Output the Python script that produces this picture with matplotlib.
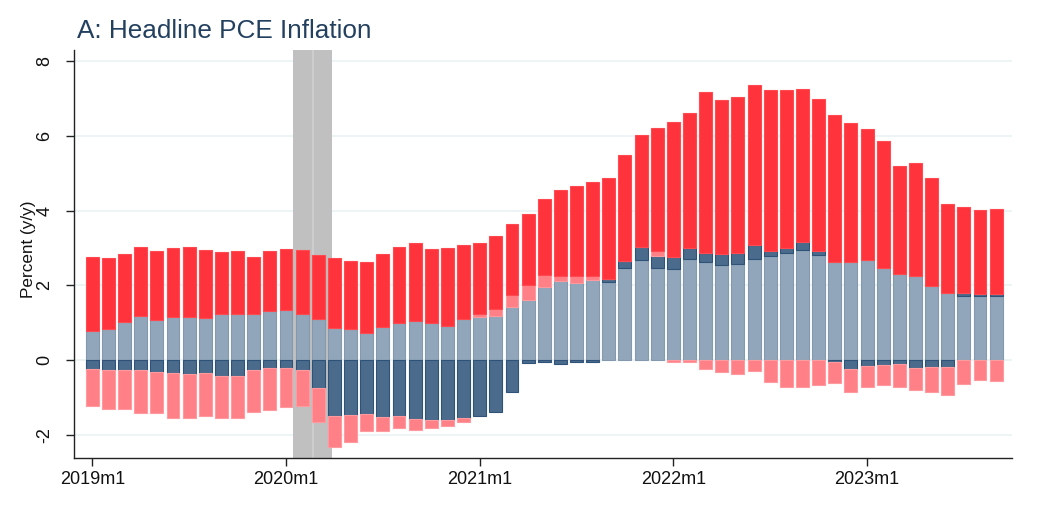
import numpy as np
import matplotlib
matplotlib.use("Agg")
import matplotlib.pyplot as plt

plt.rcParams['font.family'] = ['Liberation Sans', 'DejaVu Sans']

# Months since 2019m1 (0 = 2019m1 ... 56 = 2023m9)
months = list(range(57))
tick_pos = [0, 12, 24, 36, 48]
tick_labels = ["2019m1", "2020m1", "2021m1", "2022m1", "2023m1"]

# Contributions (percentage points), stacked in this order
light_blue = [0.78, 0.82, 1.02, 1.18, 1.06, 1.14, 1.15, 1.13, 1.22, 1.23,
              1.22, 1.31, 1.33, 1.22, 1.09, 0.87, 0.82, 0.73, 0.89, 0.98,
              1.05, 0.98, 0.91, 1.10, 1.15, 1.19, 1.42, 1.62, 1.97, 2.12,
              2.06, 2.15, 2.10, 2.47, 2.67, 2.47, 2.43, 2.71, 2.63, 2.55,
              2.57, 2.71, 2.80, 2.88, 2.95, 2.81, 2.63, 2.63, 2.69, 2.47,
              2.31, 2.26, 1.99, 1.79, 1.71, 1.72, 1.71]
dark_blue = [-0.23, -0.26, -0.27, -0.28, -0.31, -0.34, -0.38, -0.35, -0.42, -0.42,
             -0.27, -0.21, -0.21, -0.27, -0.76, -1.50, -1.47, -1.45, -1.52, -1.49,
             -1.57, -1.62, -1.61, -1.55, -1.49, -1.39, -0.86, -0.09, -0.06, -0.10,
             -0.05, -0.05, 0.06, 0.17, 0.35, 0.33, 0.34, 0.28, 0.25, 0.29,
             0.31, 0.36, 0.11, 0.12, 0.20, 0.10, -0.04, -0.24, -0.17, -0.13,
             -0.11, -0.22, -0.18, -0.18, 0.08, 0.06, 0.05]
light_red = [-0.99, -1.04, -1.04, -1.14, -1.11, -1.21, -1.17, -1.15, -1.13, -1.13,
             -1.12, -1.13, -1.04, -0.96, -0.91, -0.84, -0.72, -0.45, -0.38, -0.33,
             -0.30, -0.20, -0.17, -0.12, 0.07, 0.19, 0.32, 0.40, 0.30, 0.14,
             0.20, 0.09, 0.00, 0.00, 0.00, 0.11, -0.05, -0.05, -0.25, -0.33,
             -0.37, -0.30, -0.59, -0.71, -0.71, -0.66, -0.58, -0.62, -0.54, -0.53,
             -0.60, -0.57, -0.67, -0.75, -0.65, -0.54, -0.57]
red = [1.97, 1.92, 1.82, 1.84, 1.86, 1.85, 1.87, 1.82, 1.68, 1.69,
       1.55, 1.61, 1.65, 1.72, 1.73, 1.86, 1.83, 1.89, 1.94, 2.05,
       2.09, 2.00, 2.08, 1.97, 1.92, 1.94, 1.90, 1.90, 2.04, 2.29,
       2.39, 2.53, 2.72, 2.84, 3.00, 3.30, 3.60, 3.63, 4.29, 4.13,
       4.18, 4.30, 4.32, 4.24, 4.10, 4.09, 3.94, 3.71, 3.50, 3.41,
       2.89, 3.01, 2.88, 2.40, 2.30, 2.25, 2.29]

# Recession shading (in month units)
recession_spans = [(12.42, 13.69), (13.69, 14.83)]

series = [
    (light_blue, "#91a6ba", "#8499ae"),
    (dark_blue, "#4a6b8c", "#2f5279"),
    (light_red, "#ff8087", "#ff9aa0"),
    (red, "#ff333c", "#ff4a52"),
]

fig = plt.figure(figsize=(10.44, 5.13), dpi=100)
ax = fig.add_axes([74/1044, 1 - 458.3/513, (1012-74)/1044, (458.3-49.5)/513])

ax.set_xlim(-1.134, 56.98)
ax.set_ylim(-2.633, 8.32)

for y in [-2, 0, 2, 4, 6, 8]:
    ax.axhline(y, color="#eaf2f3", lw=1.2, zorder=0)

for (a, b) in recession_spans:
    ax.axvspan(a, b, color="#c0c0c0", lw=0, zorder=1)
ax.axvline(recession_spans[0][1], color="#d0d0d0", lw=1.2, zorder=1.1)

x = np.array(months, dtype=float)
pos_base = np.zeros(len(months))
neg_base = np.zeros(len(months))
for vals, fc, ec in series:
    v = np.array(vals, dtype=float)
    bottoms = np.where(v >= 0, pos_base, neg_base)
    ax.bar(x, v, width=0.8, bottom=bottoms, color=fc, edgecolor=ec,
           linewidth=0.8, zorder=2)
    pos_base = pos_base + np.where(v > 0, v, 0)
    neg_base = neg_base + np.where(v < 0, v, 0)

for s in ["top", "right"]:
    ax.spines[s].set_visible(False)
for s in ["left", "bottom"]:
    ax.spines[s].set_color("#222222")
    ax.spines[s].set_linewidth(1.0)

ax.set_xticks(tick_pos)
ax.set_xticklabels(tick_labels, fontsize=13, color="#111111")
ax.set_yticks([-2, 0, 2, 4, 6, 8])
ax.set_yticklabels(["-2", "0", "2", "4", "6", "8"], fontsize=13,
                   rotation=90, va="center", color="#111111")
ax.tick_params(axis="x", direction="out", length=6, width=1.0,
               color="#222222", pad=3)
ax.tick_params(axis="y", direction="out", length=6, width=1.0,
               color="#222222", pad=9)

fig.text(29/1044, 1 - 249/513, "Percent (y/y)", rotation=90, ha="center",
         va="center", fontsize=12.3, color="#111111")
fig.text(77/1044, 1 - 38.5/513, "A: Headline PCE Inflation", ha="left",
         va="baseline", fontsize=18.8, color="#23405f")

fig.savefig("out.png", dpi=100, facecolor="white")
